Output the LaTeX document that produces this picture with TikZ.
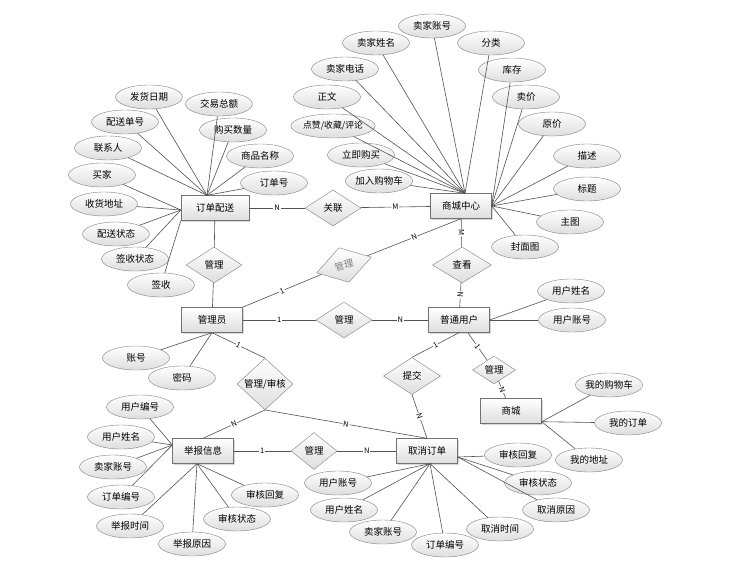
\documentclass[tikz,border=0pt]{standalone}
\usepackage{fontspec}
\setmainfont{Noto Sans CJK SC}
\usetikzlibrary{shapes.geometric,shadows}

\begin{document}
\begin{tikzpicture}[x=1pt,y=-1pt,
  entity/.style={draw=black!55, top color=white, bottom color=black!13, minimum width=61, minimum height=25, inner sep=0, font=\fontsize{9.5}{11}\selectfont, drop shadow={shadow xshift=1.2pt,shadow yshift=-1.2pt,opacity=0.3}},
  attr/.style={ellipse, draw=black!50, top color=white, bottom color=black!13, minimum width=67, minimum height=24, inner sep=0, font=\fontsize{9.5}{11}\selectfont},
  rel/.style={diamond, draw=black!50, top color=white, bottom color=black!13, minimum width=56, minimum height=36, inner sep=0, font=\fontsize{9.5}{11}\selectfont},
  card/.style={fill=white, inner sep=0.8pt, sloped, font=\fontsize{7.5}{8}\selectfont},
  link/.style={draw=black!68, line width=0.6pt}]

\path[use as bounding box, fill=white] (0,0) rectangle (741,587);

% Entities
\node[entity, minimum width=68] (od) at (215,208) {订单配送};
\node[entity] (sc) at (461,206) {商城中心};
\node[entity] (gly) at (212,320) {管理员};
\node[entity] (pt) at (459,320) {普通用户};
\node[entity] (jb) at (203,451) {举报信息};
\node[entity] (qx) at (427,451) {取消订单};
\node[entity] (sx) at (511,411) {商城};

% Relationships
\node[rel] (gl) at (333,208) {关联};
\node[rel] (rm1) at (214,265) {管理};
\node[rel, minimum width=57, rotate=16, text=gray] (rm2) at (344,265) {管理};
\node[rel, minimum width=59] (ck) at (462,265) {查看};
\node[rel] (rm3) at (344,320) {管理};
\node[rel] (shj) at (265,384) {管理/审核};
\node[rel, minimum width=57, minimum height=37] (tj) at (412,376) {提交};
\node[rel, minimum width=43, minimum height=25] (rm4) at (494,370) {管理};
\node[rel, minimum width=46, minimum height=37] (rm5) at (314,451) {管理};

% Attributes of 订单配送
\node[attr] (od1) at (149,97) {发货日期};
\node[attr] (od2) at (219,104) {交易总额};
\node[attr] (od3) at (125,122) {配送单号};
\node[attr] (od4) at (233,130) {购买数量};
\node[attr] (od5) at (108,148) {联系人};
\node[attr] (od6) at (260,156) {商品名称};
\node[attr] (od7) at (274,183) {订单号};
\node[attr] (od8) at (102,175) {买家};
\node[attr] (od9) at (104,204) {收货地址};
\node[attr] (od10) at (116,234) {配送状态};
\node[attr] (od11) at (135,259) {签收状态};
\node[attr] (od12) at (161,285) {签收};

% Attributes of 商城中心
\node[attr] (sc1) at (432,26) {卖家账号};
\node[attr] (sc2) at (376,43) {卖家姓名};
\node[attr] (sc3) at (491,43) {分类};
\node[attr] (sc4) at (345,69) {卖家电话};
\node[attr] (sc5) at (512,70) {库存};
\node[attr] (sc6) at (327,97) {正文};
\node[attr] (sc7) at (526,97) {卖价};
\node[attr, font=\fontsize{8.8}{10}\selectfont] (sc8) at (333,126) {点赞/收藏/评论};
\node[attr] (sc9) at (552,124) {原价};
\node[attr] (sc10) at (361,155) {立即购买};
\node[attr] (sc11) at (587,156) {描述};
\node[attr] (sc12) at (379,181) {加入购物车};
\node[attr] (sc13) at (587,189) {标题};
\node[attr] (sc14) at (570,222) {主图};
\node[attr] (sc15) at (525,247) {封面图};

% Attributes of 管理员, 普通用户 and 商城
\node[attr] (gly1) at (136,358) {账号};
\node[attr] (gly2) at (182,378) {密码};
\node[attr] (pt1) at (571,291) {用户姓名};
\node[attr] (pt2) at (572,320) {用户账号};
\node[attr] (sx1) at (609,385) {我的购物车};
\node[attr] (sx2) at (628,423) {我的订单};
\node[attr] (sx3) at (589,460) {我的地址};

% Attributes of 举报信息
\node[attr] (jb1) at (140,407) {用户编号};
\node[attr] (jb2) at (121,437) {用户姓名};
\node[attr] (jb3) at (113,467) {卖家账号};
\node[attr] (jb4) at (121,497) {订单编号};
\node[attr] (jb5) at (130,526) {举报时间};
\node[attr] (jb6) at (192,544) {举报原因};
\node[attr] (jb7) at (237,519) {审核状态};
\node[attr] (jb8) at (265,495) {审核回复};

% Attributes of 取消订单
\node[attr] (qx1) at (518,455) {审核回复};
\node[attr] (qx2) at (538,483) {审核状态};
\node[attr] (qx3) at (556,510) {取消原因};
\node[attr] (qx4) at (500,529) {取消时间};
\node[attr] (qx5) at (445,545) {订单编号};
\node[attr] (qx6) at (383,532) {卖家账号};
\node[attr] (qx7) at (344,510) {用户姓名};
\node[attr] (qx8) at (338,483) {用户账号};

% Points where the attribute lines meet their entity
\coordinate (odt) at ([xshift=-8]od.north);
\coordinate (odl) at ([yshift=-2]od.west);
\coordinate (sct) at ([xshift=4]sc.north);
\coordinate (jbl) at ([yshift=6]jb.west);
\coordinate (jbb) at ([xshift=-6]jb.south);
\coordinate (qxr) at ([yshift=-6]qx.east);
\coordinate (qxb) at ([xshift=3]qx.south);
\coordinate (sxr) at ([yshift=2]sx.south east);

\foreach \x in {(od1),(od2),(od3),(od4),(od5),(od6),(od7)}
	\draw[link] \x--(odt);
\foreach \x in {(od8),(od9),(od10),(od11)}
	\draw[link] \x--(odl);
\draw[link] (od12)--(od.south west);

\foreach \x in {(sc1),(sc2),(sc3),(sc4),(sc6),(sc8),(sc10),(sc12)}
	\draw[link] \x--(sct);
\foreach \x in {(sc5),(sc7),(sc9),(sc11),(sc13),(sc14),(sc15)}
	\draw[link] \x--(sc.east);

\foreach \x in {(gly1),(gly2)}
	\draw[link] \x--(gly.south);
\foreach \x in {(pt1),(pt2)}
	\draw[link] \x--(pt.east);
\foreach \x in {(sx1),(sx2),(sx3)}
	\draw[link] \x--(sxr);

\foreach \x in {(jb1),(jb2),(jb3),(jb4)}
	\draw[link] \x--(jbl);
\foreach \x in {(jb5),(jb6),(jb7),(jb8)}
	\draw[link] \x--(jbb);

\foreach \x in {(qx1),(qx2),(qx3)}
	\draw[link] \x--(qxr);
\foreach \x in {(qx4),(qx5),(qx6),(qx7),(qx8)}
	\draw[link] \x--(qxb);

% Relationship lines with their cardinalities
\draw[link] (od)--node[card]{N}(gl);
\draw[link] (gl)--node[card]{M}(sc);
\draw[link] (od)--(rm1);
\draw[link] (rm1)--(gly);
\draw[link] (gly)--node[card]{1}(rm2);
\draw[link] (rm2)--node[card]{N}(sc.south);
\draw[link] (ck)--node[card]{M}(sc);
\draw[link] (pt)--node[card]{N}(ck);
\draw[link] (gly)--node[card]{1}(rm3);
\draw[link] (rm3)--node[card]{N}(pt);
\draw[link] (gly.south)--node[card]{1}(shj.north);
\draw[link] (shj.south)--node[card]{N}(jb.north);
\draw[link] (shj.south)--node[card]{N}(qx.north);
\draw[link] (pt.south)--node[card]{1}(tj.north);
\draw[link] (tj.south)--node[card]{N}(qx.north);
\draw[link] (pt)--node[card]{1}(rm4);
\draw[link] (rm4)--node[card]{N}(sx);
\draw[link] (jb)--node[card]{1}(rm5);
\draw[link] (rm5)--node[card]{N}(qx);
\end{tikzpicture}
\end{document}
